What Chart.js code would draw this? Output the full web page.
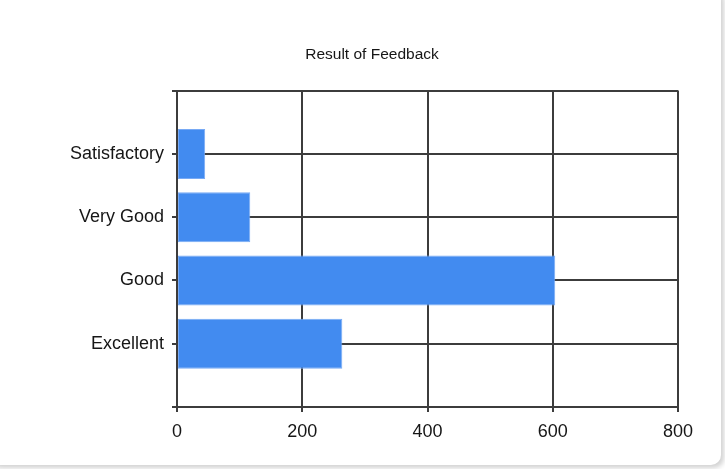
<!DOCTYPE html>
<html>
<head>
<meta charset="utf-8">
<script src="https://cdn.jsdelivr.net/npm/chart.js@4.4.1/dist/chart.umd.min.js"></script>
<style>
  html, body { margin: 0; padding: 0; background: #ffffff; overflow: hidden; }
  .card {
    position: absolute; left: -12px; top: -12px; width: 733px; height: 477px;
    background: #fff; border-radius: 10px;
    box-shadow: 3px 3px 5px rgba(0,0,0,0.18);
  }
  #chart { position: absolute; left: 0; top: 0; }
</style>
</head>
<body>
<div class="card"></div>
<canvas id="chart" width="725" height="469"></canvas>
<script>
// feedback counts
const categories = ['Excellent', 'Good', 'Very Good', 'Satisfactory']
const counts = [264, 604, 117, 45]
const xTicks = [0, 200, 400, 600, 800]
const chartTitle = 'Result of Feedback'

// category axis runs top -> bottom, so reverse and pad with empty slots
// so the grid gets a full row of space above and below the bars
const labels = [''].concat(categories.slice().reverse(), [''])
const values = [null].concat(counts.slice().reverse(), [null])

const gridColor = '#3c3c3c'
const textColor = '#161616'

const ctx = document.getElementById('chart').getContext('2d')
new Chart(ctx, {
  type: 'bar',
  data: {
    labels: labels,
    datasets: [{
      label: 'Feedback',
      data: values,
      backgroundColor: 'rgb(66, 139, 240)',
      borderColor: 'rgb(120, 170, 245)',
      borderWidth: 1,
      borderSkipped: false,
      barPercentage: 0.79,
      categoryPercentage: 1
    }]
  },
  options: {
    indexAxis: 'y',
    responsive: false,
    animation: false,
    events: [],
    layout: { padding: { left: 66, right: 47, top: 0, bottom: 12 } },
    plugins: {
      legend: { display: false },
      tooltip: { enabled: false },
      title: {
        display: true,
        text: chartTitle,
        color: textColor,
        font: { family: "'Liberation Sans', Arial, sans-serif", size: 15.5, weight: 'normal' },
        padding: { top: 45, bottom: 27 }
      }
    },
    scales: {
      x: {
        min: xTicks[0],
        max: xTicks[xTicks.length - 1],
        afterBuildTicks: s => { s.ticks = xTicks.map(v => ({ value: v })) },
        afterFit: s => { s.height = 50 },
        grid: { color: gridColor, lineWidth: 2, tickLength: 5 },
        border: { color: gridColor, width: 2 },
        ticks: {
          color: textColor,
          padding: 9,
          maxRotation: 0,
          font: { family: "'Liberation Sans Narrow', 'Liberation Sans', Arial, sans-serif", size: 18 }
        }
      },
      y: {
        offset: false,
        afterFit: s => { s.width = 111 },
        grid: { color: gridColor, lineWidth: 2, tickLength: 5, offset: false },
        border: { color: gridColor, width: 2, z: 1 },
        ticks: {
          color: textColor,
          padding: 8,
          autoSkip: false,
          font: { family: "'Liberation Sans', Arial, sans-serif", size: 18 }
        }
      }
    }
  }
})
</script>
</body>
</html>
